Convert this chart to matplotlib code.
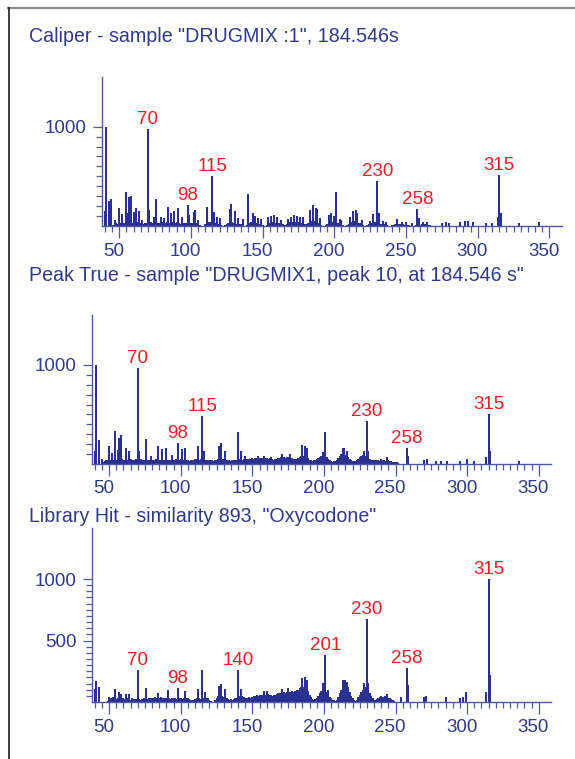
import matplotlib
matplotlib.use("Agg")
import matplotlib.pyplot as plt
from matplotlib.lines import Line2D
from matplotlib.ticker import FixedLocator
from matplotlib.transforms import ScaledTranslation, blended_transform_factory

plt.rcParams['font.family'] = ['Liberation Sans', 'DejaVu Sans']

# ---------------- data ----------------
titles = ['Caliper - sample "DRUGMIX :1", 184.546s',
          'Peak True - sample "DRUGMIX1, peak 10, at 184.546 s"',
          'Library Hit - similarity 893, "Oxycodone"']

x_ticks = [50, 100, 150, 200, 250, 300, 350]

# panel 1 main peaks
p1_mz = [40, 41, 43, 44, 47, 50, 52, 55, 56, 57, 58, 60, 62, 64, 66, 70, 71, 74, 76, 79,
         81, 84, 86, 88, 91, 94, 98, 99, 102, 103, 105, 111, 115, 116, 118, 120, 127, 128,
         131, 133, 136, 140, 143, 145, 147, 149, 154, 156, 158, 160, 163, 168, 170, 172,
         174, 176, 178, 183, 185, 187, 188, 190, 196, 198, 200, 201, 204, 205, 211, 213,
         215, 216, 219, 225, 227, 230, 231, 234, 236, 244, 247, 250, 254, 258, 259, 262,
         265, 275, 278, 280, 288, 291, 293, 297, 306, 310, 314, 315, 316, 329, 343]
p1_int = [155, 1000, 247, 274, 60, 180, 120, 338, 128, 287, 297, 145, 180, 152, 60, 973, 162, 95, 274, 95,
          78, 196, 128, 155, 180, 95, 216, 111, 145, 162, 60, 196, 500, 145, 95, 78, 169, 220,
          155, 78, 68, 324, 128, 101, 78, 71, 88, 101, 111, 88, 60, 68, 95, 111,
          101, 95, 88, 162, 213, 180, 169, 78, 111, 135, 101, 338, 68, 60, 95, 155,
          162, 128, 60, 54, 122, 450, 128, 54, 44, 68, 44, 37, 27, 169, 78, 44,
          37, 34, 37, 34, 40, 47, 47, 37, 34, 34, 88, 517, 128, 34, 37]
p1_grass_start = 46
p1_grass = [15, 20, 30, 25, 35, 30, 40, 35, 30, 40,
            35, 45, 40, 35, 40, 30, 35, 40, 30, 35,
            30, 25, 30, 35, 40, 45, 40, 35, 30, 35,
            40, 35, 30, 35, 40, 30, 35, 40, 35, 30,
            35, 40, 30, 35, 40, 35, 30, 25, 30, 35,
            30, 35, 40, 35, 30, 35, 40, 35, 30, 25,
            15, 0, 0, 0, 20, 35, 45, 40, 35, 45,
            40, 35, 30, 25, 20, 15, 0, 0, 10, 20,
            35, 40, 45, 40, 35, 30, 25, 20, 25, 20,
            15, 0, 0, 15, 30, 35, 40, 35, 30, 25,
            30, 25, 20, 25, 15, 0, 0, 15, 30, 35,
            40, 45, 40, 35, 40, 35, 30, 25, 20, 10,
            15, 25, 35, 40, 45, 40, 45, 40, 35, 40,
            35, 30, 35, 25, 20, 15, 35, 45, 50, 55,
            50, 45, 40, 35, 25, 15, 0, 0, 10, 20,
            35, 40, 45, 40, 45, 40, 35, 30, 25, 20,
            15, 0, 0, 10, 20, 35, 40, 45, 50, 45,
            40, 35, 30, 20, 15, 0, 0, 10, 20, 30,
            35, 40, 45, 40, 35, 30, 25, 25, 20, 25,
            20, 15, 0, 0, 10, 15, 20, 25, 20, 25,
            20, 25, 20, 15, 20, 15, 10, 0, 0, 0,
            0, 15, 25, 20, 15, 20, 25, 20, 15, 20,
            15, 10, 0]
p1_labels = [70, 98, 115, 230, 258, 315]

# panel 2 main peaks
p2_mz = [40, 41, 43, 45, 50, 52, 54, 56, 57, 58, 62, 64, 70, 71, 76, 79, 84, 87, 90, 94,
         98, 101, 103, 112, 115, 116, 127, 128, 131, 140, 142, 145, 154, 158, 163, 171, 176,
         185, 187, 188, 199, 201, 213, 214, 216, 228, 230, 231, 240, 244, 258, 259, 270,
         272, 278, 282, 286, 295, 300, 305, 313, 315, 316, 336]
p2_int = [128, 1000, 240, 50, 179, 111, 331, 145, 263, 290, 162, 128, 973, 128, 257, 84, 179, 152, 162, 95,
          213, 152, 162, 179, 483, 128, 179, 213, 128, 324, 128, 84, 78, 84, 71, 105, 105,
          196, 179, 162, 118, 324, 162, 162, 135, 128, 432, 128, 50, 71, 162, 78, 44,
          50, 34, 34, 34, 34, 50, 34, 71, 500, 128, 34]
p2_grass_start = 46
p2_grass = [25, 35, 40, 45, 50, 40, 45, 40, 50, 45,
            50, 45, 55, 50, 45, 40, 50, 45, 40, 50,
            45, 40, 45, 50, 45, 40, 50, 45, 40, 45,
            50, 45, 40, 50, 45, 40, 45, 50, 45, 40,
            45, 50, 40, 45, 50, 45, 40, 45, 50, 40,
            45, 50, 45, 40, 50, 55, 45, 50, 45, 40,
            35, 40, 45, 40, 50, 55, 50, 45, 50, 55,
            50, 45, 40, 35, 40, 45, 40, 35, 40, 45,
            50, 55, 60, 55, 50, 45, 40, 45, 40, 35,
            40, 45, 40, 45, 50, 55, 50, 45, 50, 45,
            50, 55, 50, 55, 60, 55, 60, 65, 60, 65,
            60, 65, 70, 65, 60, 55, 60, 55, 50, 45,
            50, 55, 60, 65, 70, 75, 70, 65, 70, 75,
            70, 65, 60, 55, 50, 55, 60, 70, 80, 90,
            85, 80, 75, 60, 45, 40, 35, 40, 45, 50,
            60, 70, 80, 85, 90, 80, 70, 55, 40, 30,
            25, 30, 35, 45, 60, 80, 100, 110, 105, 95,
            85, 70, 55, 40, 30, 25, 30, 40, 55, 70,
            80, 90, 95, 85, 80, 70, 55, 45, 40, 35,
            40, 45, 40, 35, 40, 45, 40, 35, 40, 45,
            35, 30, 25, 20, 25, 20, 15]
p2_labels = [70, 98, 115, 230, 258, 315]

# panel 3 main peaks (library spectrum)
p3_mz = [40, 41, 43, 50, 54, 57, 58, 62, 64, 70, 76, 84, 91, 98, 103, 112, 115, 117, 127, 128,
         131, 140, 142, 153, 158, 160, 171, 175, 185, 187, 188, 199, 201, 203, 213, 215, 216,
         228, 230, 231, 240, 244, 254, 258, 259, 270, 271, 285, 295, 297, 299, 313, 315, 316]
p3_int = [105, 170, 125, 40, 105, 78, 67, 67, 67, 259, 113, 73, 100, 113, 92, 105, 259, 78, 132, 146,
          105, 259, 105, 59, 86, 86, 105, 113, 194, 202, 181, 154, 383, 100, 175, 175, 159,
          154, 671, 154, 51, 67, 40, 280, 140, 40, 51, 40, 32, 40, 78, 78, 1000, 221]
p3_grass_start = 46
p3_grass = [0, 0, 0, 10, 25, 30, 35, 40, 30, 25,
            35, 30, 25, 20, 30, 25, 20, 30, 25, 20,
            30, 25, 20, 25, 30, 25, 20, 25, 30, 35,
            30, 25, 30, 35, 30, 35, 40, 35, 30, 35,
            40, 35, 30, 25, 30, 35, 30, 25, 30, 35,
            30, 25, 30, 35, 30, 25, 35, 40, 35, 30,
            25, 20, 15, 20, 25, 30, 35, 30, 25, 30,
            35, 40, 35, 30, 20, 10, 0, 0, 15, 30,
            45, 55, 50, 45, 40, 35, 30, 25, 20, 25,
            20, 25, 30, 35, 40, 45, 50, 45, 40, 35,
            30, 35, 40, 35, 40, 45, 50, 45, 50, 55,
            50, 55, 60, 55, 60, 65, 60, 55, 50, 55,
            60, 65, 70, 75, 70, 75, 80, 75, 80, 85,
            80, 85, 90, 85, 90, 95, 100, 110, 120, 130,
            120, 110, 100, 90, 60, 40, 25, 20, 25, 35,
            50, 70, 90, 110, 120, 100, 80, 60, 40, 30,
            20, 15, 10, 20, 40, 70, 100, 130, 150, 160,
            150, 120, 80, 50, 30, 15, 10, 20, 40, 60,
            80, 100, 110, 120, 110, 90, 70, 50, 30, 20,
            15, 25, 35, 40, 45, 40, 35, 45, 40, 35,
            30, 25, 15, 10, 0]
p3_labels = [70, 98, 140, 201, 230, 258, 315]

# ---------------- style ----------------
W, H, DPI = 575, 759, 100
BAR = '#2a3190'
TXT = '#2e3a8c'
AXC = '#4e59a8'
RED = '#ee1d25'
FS = 13.5
FS_TITLE = 14.1
LW = 1.45

fig = plt.figure(figsize=(W / DPI, H / DPI), dpi=DPI)

# frame lines of the window
fig.add_artist(Line2D([8 / W, 1], [1 - 8 / H, 1 - 8 / H], transform=fig.transFigure,
                      color='#8c8c8c', lw=1.6))
fig.add_artist(Line2D([9 / W, 9 / W], [0, 1 - 8 / H], transform=fig.transFigure,
                      color='#1a1a1a', lw=1.2))

panels = [
    dict(title=titles[0], ty=37, box=(102, 561.7, 77, 226), ymax=1500,
         ymaj=[1000], ymin=list(range(100, 1001, 100)),
         mz=p1_mz, inten=p1_int, gs=p1_grass_start, grass=p1_grass, labels=p1_labels),
    dict(title=titles[1], ty=275, box=(92, 551, 315, 464), ymax=1505,
         ymaj=[1000], ymin=list(range(100, 1001, 100)),
         mz=p2_mz, inten=p2_int, gs=p2_grass_start, grass=p2_grass, labels=p2_labels),
    dict(title=titles[2], ty=516, box=(92, 551, 528, 702), ymax=1415,
         ymaj=[500, 1000], ymin=list(range(50, 1001, 50)),
         mz=p3_mz, inten=p3_int, gs=p3_grass_start, grass=p3_grass, labels=p3_labels),
]

for p in panels:
    l, r, t, b = p['box']
    ax = fig.add_axes([l / W, 1 - b / H, (r - l) / W, (b - t) / H])
    ax.set_facecolor('none')
    ax.set_xlim(38, 358.6)
    ax.set_ylim(0, p['ymax'])
    for s in ('top', 'right'):
        ax.spines[s].set_visible(False)
    for s in ('left', 'bottom'):
        ax.spines[s].set_color(AXC)
        ax.spines[s].set_linewidth(1.0)

    gx = [p['gs'] + i for i, v in enumerate(p['grass']) if v > 0]
    gy = [v for v in p['grass'] if v > 0]
    ax.vlines(gx, 0, gy, colors=BAR, linewidth=LW)
    ax.vlines(p['mz'], 0, p['inten'], colors=BAR, linewidth=LW)

    # peak labels
    for lab in p['labels']:
        idx = p['mz'].index(lab)
        ax.annotate(str(lab), xy=(lab, p['inten'][idx]), xytext=(0, 3.6),
                    textcoords='offset points', ha='center', va='baseline',
                    color=RED, fontsize=FS)

    # x ticks
    ax.xaxis.set_major_locator(FixedLocator(x_ticks))
    ax.xaxis.set_minor_locator(FixedLocator([v for v in range(40, 350, 5) if v % 50]))
    ax.tick_params(axis='x', which='major', direction='out', length=8.6, width=0.9,
                   color=AXC, labelbottom=False)
    ax.tick_params(axis='x', which='minor', direction='out', length=4.3, width=0.9,
                   color=AXC)
    trans = blended_transform_factory(ax.transData, ax.transAxes) + \
        ScaledTranslation(-5.5 / DPI, -25 / DPI, fig.dpi_scale_trans)
    for v in x_ticks:
        ax.text(v, 0, str(v), transform=trans, ha='center', va='center',
                color=TXT, fontsize=FS)

    # y ticks
    ax.yaxis.set_major_locator(FixedLocator(p['ymaj']))
    ax.yaxis.set_minor_locator(FixedLocator(p['ymin']))
    ax.tick_params(axis='y', which='major', direction='out', length=6.8, width=0.9,
                   color=AXC, labelcolor=TXT, labelsize=FS, pad=4.3)
    ax.tick_params(axis='y', which='minor', direction='out', length=4.6, width=0.9,
                   color=AXC)

    fig.text(29 / W, 1 - p['ty'] / H, p['title'], ha='left', va='center',
             color=TXT, fontsize=FS_TITLE)

fig.savefig('out.png', dpi=DPI)
